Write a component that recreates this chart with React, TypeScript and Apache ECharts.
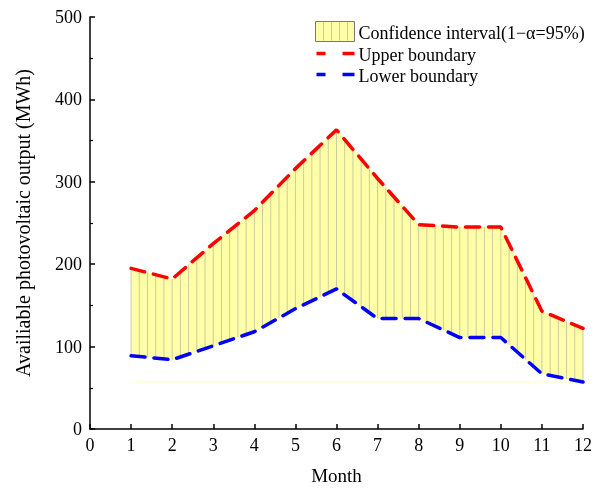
import React, { useEffect, useRef } from "react";
import * as echarts from "echarts";

const months = [1, 2, 3, 4, 5, 6, 7, 8, 9, 10, 11, 12];
const upper = [195, 182, 225, 265, 316, 363, 304, 248, 245, 245, 143, 122];
const lower = [89, 84, 101, 118, 146, 170, 134, 134, 111, 111, 67, 57];
const yTicks = [0, 100, 200, 300, 400, 500];
const xTicks = [0, 1, 2, 3, 4, 5, 6, 7, 8, 9, 10, 11, 12];

const FONT = "Liberation Serif";
const FILL = "#FFFFA8";
const HATCH = "rgba(160,160,150,0.55)";

export default function App() {
  const ref = useRef<HTMLDivElement>(null);
  useEffect(() => {
    if (!ref.current) return;
    const chart = echarts.init(ref.current, undefined, { renderer: "svg" });
    const segs = months.slice(0, -1).map((m, i) => [m, upper[i], lower[i], months[i + 1], upper[i + 1], lower[i + 1]]);
    const baseline = Math.min(...lower);
    const sub = 5;
    chart.setOption({
      animation: false,
      grid: { left: 90, right: 14, top: 17, bottom: 58 },
      xAxis: {
        type: "value",
        min: 0,
        max: 12,
        interval: 1,
        name: "Month",
        nameLocation: "middle",
        nameGap: 37,
        nameTextStyle: { fontFamily: FONT, fontSize: 19, color: "#000" },
        axisLine: { lineStyle: { color: "#000", width: 1.5 } },
        axisTick: { inside: true, length: 5, lineStyle: { color: "#000", width: 1.5 } },
        axisLabel: {
          fontFamily: FONT,
          fontSize: 18,
          color: "#000",
          margin: 7,
          formatter: (v: number) => (xTicks.includes(v) ? String(v) : ""),
        },
        splitLine: { show: false },
      },
      yAxis: {
        type: "value",
        min: 0,
        max: 500,
        interval: 100,
        name: "Availiable photovoltaic output (MWh)",
        nameLocation: "middle",
        nameGap: 57,
        nameTextStyle: { fontFamily: FONT, fontSize: 20, color: "#000" },
        axisLine: { show: true, lineStyle: { color: "#000", width: 1.5 } },
        axisTick: { inside: true, length: 5, lineStyle: { color: "#000", width: 1.5 } },
        minorTick: { show: true, splitNumber: 2, length: 3, lineStyle: { color: "#000", width: 1.2 } },
        axisLabel: {
          fontFamily: FONT,
          fontSize: 18,
          color: "#000",
          margin: 8,
          formatter: (v: number) => (yTicks.includes(v) ? String(v) : ""),
        },
        splitLine: { show: false },
      },
      series: [
        {
          type: "custom",
          data: segs,
          encode: { x: [0, 3], y: [1, 2, 4, 5] },
          z: 1,
          renderItem: (params: any, api: any) => {
            const x0 = api.value(0), u0 = api.value(1), l0 = api.value(2);
            const x1 = api.value(3), u1 = api.value(4), l1 = api.value(5);
            const pts = [api.coord([x0, u0]), api.coord([x1, u1]), api.coord([x1, l1]), api.coord([x0, l0])];
            const children: any[] = [
              { type: "polygon", shape: { points: pts }, style: { fill: FILL, stroke: FILL, lineWidth: 0.5 } },
            ];
            const last = params.dataIndex === segs.length - 1;
            for (let k = 0; k <= sub; k++) {
              if (k === sub && !last) break;
              const t = k / sub;
              const xx = x0 + (x1 - x0) * t;
              const uu = u0 + (u1 - u0) * t;
              const ll = l0 + (l1 - l0) * t;
              const a = api.coord([xx, uu]);
              const b = api.coord([xx, ll]);
              children.push({
                type: "line",
                shape: { x1: a[0], y1: a[1], x2: b[0], y2: b[1] },
                style: { stroke: HATCH, lineWidth: 1 },
              });
            }
            return { type: "group", children };
          },
        },
        {
          type: "line",
          data: [[months[0], baseline], [months[months.length - 1], baseline]],
          symbol: "none",
          z: 1,
          lineStyle: { color: "#FFFFC8", width: 1 },
          silent: true,
        },
        {
          type: "line",
          name: "Upper boundary",
          data: months.map((m, i) => [m, upper[i]]),
          symbol: "none",
          z: 3,
          lineStyle: { color: "#FF0000", width: 3.5, type: [14, 9], cap: "round" },
        },
        {
          type: "line",
          name: "Lower boundary",
          data: months.map((m, i) => [m, lower[i]]),
          symbol: "none",
          z: 3,
          lineStyle: { color: "#0000FF", width: 3.5, type: [14, 9], cap: "round" },
        },
      ],
      graphic: [
        {
          type: "group",
          left: 314,
          top: 20,
          children: [
            { type: "rect", shape: { x: 0, y: 0, width: 39, height: 20 }, style: { fill: FILL, stroke: "#777", lineWidth: 1 } },
            { type: "line", shape: { x1: 8, y1: 1, x2: 8, y2: 19 }, style: { stroke: HATCH, lineWidth: 1 } },
            { type: "line", shape: { x1: 16, y1: 1, x2: 16, y2: 19 }, style: { stroke: HATCH, lineWidth: 1 } },
            { type: "line", shape: { x1: 24, y1: 1, x2: 24, y2: 19 }, style: { stroke: HATCH, lineWidth: 1 } },
            { type: "line", shape: { x1: 32, y1: 1, x2: 32, y2: 19 }, style: { stroke: HATCH, lineWidth: 1 } },
            { type: "text", x: 43, y: 11, style: { text: "Confidence interval(1\u2212\u03b1=95%)", font: `18px "${FONT}"`, fill: "#000", verticalAlign: "middle" } },
            { type: "line", shape: { x1: 1, y1: 32, x2: 10, y2: 32 }, style: { stroke: "#FF0000", lineWidth: 3.5 } },
            { type: "line", shape: { x1: 27, y1: 32, x2: 39, y2: 32 }, style: { stroke: "#FF0000", lineWidth: 3.5 } },
            { type: "text", x: 43, y: 33, style: { text: "Upper boundary", font: `18px "${FONT}"`, fill: "#000", verticalAlign: "middle" } },
            { type: "line", shape: { x1: 1, y1: 53, x2: 10, y2: 53 }, style: { stroke: "#0000FF", lineWidth: 3.5 } },
            { type: "line", shape: { x1: 27, y1: 53, x2: 39, y2: 53 }, style: { stroke: "#0000FF", lineWidth: 3.5 } },
            { type: "text", x: 43, y: 54, style: { text: "Lower boundary", font: `18px "${FONT}"`, fill: "#000", verticalAlign: "middle" } },
          ],
        },
      ],
    });
    return () => chart.dispose();
  }, []);
  return <div ref={ref} style={{ position: "fixed", left: 0, top: 0, width: 597, height: 490 }} />;
}
